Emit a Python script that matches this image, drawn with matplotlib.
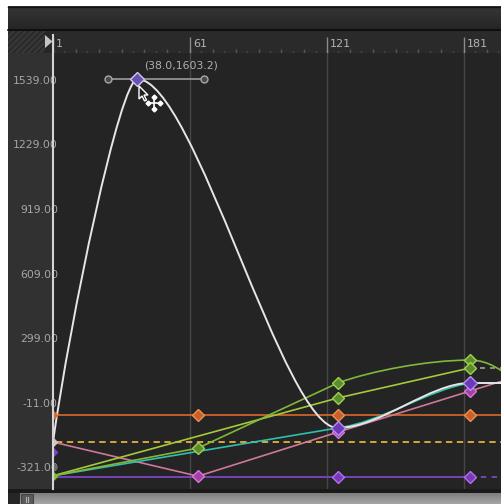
import numpy as np
import matplotlib
matplotlib.use("Agg")
import matplotlib.pyplot as plt
import matplotlib.transforms as mtrans
from matplotlib.path import Path
from matplotlib.patches import PathPatch, Rectangle, Polygon

########## data (frame, value) ##########
frame_ticks = [1, 61, 121, 181]
value_ticks = [1539.00, 1229.00, 919.00, 609.00, 299.00, -11.00, -321.00]
key_frames = [64.5, 125.8, 183.6]

# selected curve: bezier nodes P0 C C P1 C C P2 ...
white_nodes = [(1, -141), (8.5, 446), (30.3, 1603.2), (38.0, 1603.2),
               (62.8, 1603.2), (102.2, -83), (125.8, -73),
               (144.2, -73), (166.1, 143), (183.6, 143)]
white_keys_f = [38.0, 125.8, 183.6]
white_keys_v = [1603.2, -73, 143]
peak_label = "(38.0,1603.2)"
handle_f = [25.1, 67.1]
handle_v = [1603.2, 1603.2]

teal_f = [1, 125.8]
teal_v = [-303, -73]
teal_nodes = [(125.8, -73), (145, -45), (165, 110), (183.6, 143)]

pink_f = [1, 64.5, 125.8, 183.6, 200]
pink_v = [-141, -305, -93, 104, 160]

greenA_f = [1, 64.5, 125.8]
greenA_v = [-303, -170, 143]
greenA_nodes = [(125.8, 143), (140, 200), (165, 253), (183.6, 253),
                (192, 253), (198, 200), (205, 140)]
greenA_keys = [-170, 143, 253]

greenB_f = [1, 125.8, 183.6]
greenB_v = [-303, 71, 215]

orange_v = -11
yellow_v = -141
purple_v = -310
start_marks = {"#d9692b": -11, "#d8c0c8": -141, "#7b45c4": -189, "#6a6a6a": -261, "#86bb34": -303}
#########################################

C_WHITE = "#e6e6e6"
C_ORANGE = "#d9692b"
C_YELLOW = "#e2b43a"
C_PURPLE = "#7b45c4"
C_PINK = "#d07898"
C_TEAL = "#2fbfae"
C_GA = "#80b83a"
C_GB = "#a6c93a"

W, H = 501, 504
fig = plt.figure(figsize=(W / 100, H / 100), dpi=100)
fig.patch.set_facecolor("white")

# ---- background chrome, pixel coords ----
bg = fig.add_axes([0, 0, 1, 1], zorder=0)
bg.axis("off")
bg.add_patch(Rectangle((8, 6), W - 8, H - 6, color="#232323", lw=0, zorder=0))
grad = np.linspace(0, 1, 50).reshape(-1, 1)
bg.imshow(grad, cmap=matplotlib.colors.LinearSegmentedColormap.from_list("h", ["#363636", "#252525"]),
          extent=[8, W, 30, 6], aspect="auto", interpolation="bilinear", zorder=1)
bg.plot([8, W], [6.5, 6.5], color="#111111", lw=1, zorder=2)
bg.plot([8, W], [30, 30], color="#0c0c0c", lw=1.2, zorder=2)
bg.add_patch(Rectangle((8, 31), 45, 22, color="#262626", lw=0, zorder=2))
clip = Rectangle((8, 31), 37, 22, transform=bg.transData)
for x0 in range(-20, 50, 6):
    ln, = bg.plot([x0, x0 + 22], [53, 31], color="#363636", lw=2, zorder=3)
    ln.set_clip_path(clip)
bg.add_patch(Rectangle((8, 53), 45, 436, color="#313131", lw=0, zorder=2))
bg.add_patch(Rectangle((8, 489), W - 8, 4, color="#1a1a1a", lw=0, zorder=2))
bg.imshow(grad, cmap=matplotlib.colors.LinearSegmentedColormap.from_list("s", ["#7e7e7e", "#a6a6a6"]),
          extent=[20, W, H, 493], aspect="auto", interpolation="bilinear", zorder=3)
bg.add_patch(Rectangle((8, 493), 12, 11, color="#262626", lw=0, zorder=3))
bg.set_xlim(0, W)
bg.set_ylim(H, 0)

# ---- main graph ----
ax = fig.add_axes([53 / W, 15 / H, 448 / W, 436 / H], zorder=1)
ax.set_facecolor("#242424")
for s in ax.spines.values():
    s.set_visible(False)
ax.set_xticks([])
ax.set_yticks([])
ax.set_xlim(1, 197.2)
ax.set_ylim(-366.6, 1728.8)

for f in frame_ticks[1:]:
    ax.axvline(f, color="#474747", lw=1, zorder=1)


def bez(nodes, color, lw=1.2, z=3):
    codes = [Path.MOVETO] + [Path.CURVE4] * (len(nodes) - 1)
    ax.add_patch(PathPatch(Path(nodes, codes), fc="none", ec=color, lw=lw, zorder=z))


def keys(f, v, fc, ec, ms=6.5, z=6):
    ax.plot(f, v, ls="none", marker="D", ms=ms, mfc=fc, mec=ec, mew=1, zorder=z)


ax.plot([1, 200], [orange_v, orange_v], color=C_ORANGE, lw=1.2, zorder=2)
ax.plot([2.5, 200], [yellow_v, yellow_v], color=C_YELLOW, lw=1.3, ls=(0, (3.5, 2.5)), zorder=2)
ax.plot([1, key_frames[-1]], [purple_v, purple_v], color=C_PURPLE, lw=1.3, zorder=2)
ax.plot([key_frames[-1], 200], [purple_v, purple_v], color=C_PURPLE, lw=1.3, ls=(0, (3, 3)), zorder=2)
ax.plot(pink_f, pink_v, color=C_PINK, lw=1.2, zorder=3)
ax.plot(teal_f, teal_v, color=C_TEAL, lw=1.2, zorder=3)
bez(teal_nodes, C_TEAL)
ax.plot(greenB_f, greenB_v, color=C_GB, lw=1.2, zorder=3)
ax.plot([greenB_f[-1], 200], [greenB_v[-1]] * 2, color="#9aa88a", lw=1.2, ls=(0, (3, 3)), zorder=3)
ax.plot(greenA_f, greenA_v, color=C_GA, lw=1.2, zorder=3)
bez(greenA_nodes, C_GA)
bez(white_nodes, C_WHITE, lw=1.4, z=4)
ax.plot([white_nodes[-1][0], 200], [white_nodes[-1][1]] * 2, color=C_WHITE, lw=1.4, zorder=4)

for c, v in start_marks.items():
    ax.plot([1], [v], ls="none", marker="D", ms=4.5, mfc=c, mec=c, zorder=5)

keys(key_frames, [orange_v] * 3, "#c8602a", "#f09050")
keys(key_frames[1:], [purple_v] * 2, "#7a3ab8", "#b070f0")
keys(key_frames, greenA_keys, "#5c8c2c", "#a0d050")
keys(key_frames[1:], greenB_v[1:], "#5c8c2c", "#a0d050")
keys(key_frames, pink_v[1:4], "#a040a8", "#d878d8")
keys(white_keys_f[1:], white_keys_v[1:], "#6a3ab8", "#b890f0", ms=7.5)

# tangent handle on the selected key
ax.plot(handle_f, handle_v, color="#8a8a8a", lw=1.4, zorder=7)
ax.plot(handle_f, handle_v, ls="none", marker="o", ms=5, mfc="#4a4a4a", mec="#a8a8a8", mew=1, zorder=7)
keys([white_keys_f[0]], [white_keys_v[0]], "#6a50b0", "#d0c8f0", ms=7, z=8)
ax.text(57.1, 1671, peak_label, ha="center", va="center", color="#b0b0b0", fontsize=7.8, zorder=8)

# value labels (drawn a little above their value, as in the editor)
lab_tr = mtrans.blended_transform_factory(ax.transAxes, ax.transData) + \
    mtrans.ScaledTranslation(0, 11.5 / 100, fig.dpi_scale_trans)
for v in value_ticks:
    ax.text(0.011, v, f"{v:.2f}", transform=lab_tr, ha="right", va="center",
            color="#a6a6a6", fontsize=7.8, clip_on=False, zorder=0)

# ---- ruler ----
ru = fig.add_axes([53 / W, (H - 53) / H, 448 / W, 22 / H], zorder=1, sharex=ax)
ru.set_facecolor("#2a2a2a")
for s in ru.spines.values():
    s.set_visible(False)
ru.tick_params(left=False, bottom=False, labelleft=False, labelbottom=False)
ru.set_ylim(0, 1)
minor = np.arange(1, 198, 5)
ru.vlines(minor, 0, 0.1, color="#4c4c4c", lw=1)
ru.vlines(minor[::2], 0, 0.18, color="#555555", lw=1)
ru.vlines(frame_ticks, 0, 0.75, color="#8a8a8a", lw=1)
lt = ru.transData + mtrans.ScaledTranslation(3 / 100, 0, fig.dpi_scale_trans)
for f in frame_ticks:
    ru.text(f, 0.43, str(f), transform=lt, ha="left", va="center", color="#b4b4b4", fontsize=8)
ru.set_xlim(1, 197.2)

# ---- foreground: playhead, cursor, scrollbar knob ----
fg = fig.add_axes([0, 0, 1, 1], zorder=5)
fg.axis("off")
fg.patch.set_alpha(0)
fg.plot([53, 53], [35, 489], color="#d4d4d4", lw=1.5)
fg.add_patch(Polygon([(45, 35), (45, 48), (52.5, 41.5)], color="#c4c4c4", lw=0))
arrow = np.array([(0, 0), (0, 13), (3, 10), (5.5, 15), (7.5, 14), (5, 9), (9, 9)])
fg.add_patch(Polygon(arrow + (139, 86), fc="#202020", ec="white", lw=1))
cx, cy = 154, 103
fg.plot([cx - 6, cx + 6], [cy, cy], color="white", lw=1.2)
fg.plot([cx, cx], [cy - 6, cy + 6], color="white", lw=1.2)
fg.plot([cx - 6, cx + 6, cx, cx], [cy, cy, cy - 6, cy + 6], ls="none", marker="D", ms=2.5, color="white")
fg.add_patch(Rectangle((21, 494), 12, 10, fc="#5a5a5a", ec="#444444", lw=0.8))
fg.plot([26, 26], [497, 502], color="#b0b0b0", lw=0.8)
fg.plot([28.5, 28.5], [497, 502], color="#b0b0b0", lw=0.8)
fg.set_xlim(0, W)
fg.set_ylim(H, 0)

fig.savefig("out.png", dpi=100, facecolor=fig.get_facecolor())
